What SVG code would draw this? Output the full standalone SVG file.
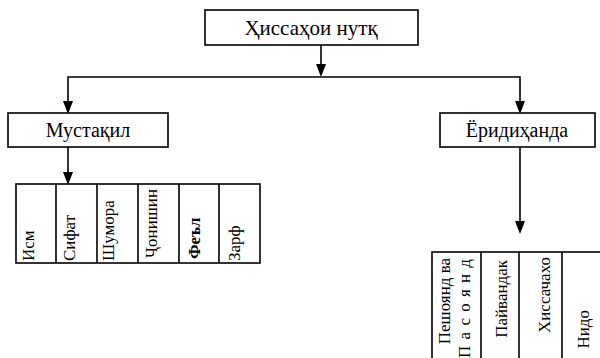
<svg xmlns="http://www.w3.org/2000/svg" width="600" height="358" viewBox="0 0 600 358">
<rect width="600" height="358" fill="#fff"/>
<g id="connectors" fill="none" stroke="#000" stroke-width="1.6">
<polyline points="68,112 68,77 520,77 520,112"/>
<line x1="321" y1="45" x2="321" y2="70"/>
<line x1="68" y1="147" x2="68" y2="178"/>
<line x1="520" y1="147" x2="520" y2="226"/>
<g fill="#000" stroke="none">
<polygon points="316,64 326,64 321,77"/>
<polygon points="63,101 73,101 68,114"/>
<polygon points="515,101 525,101 520,114"/>
<polygon points="63,172 73,172 68,185"/>
<polygon points="515,221 525,221 520,234"/>
</g>
</g>
<g id="root">
<rect x="205" y="10" width="213" height="35" fill="#fff" stroke="#000" stroke-width="1.6"/>
<text x="311" y="35" style="font-family:'Liberation Serif','Times New Roman',serif;font-size:21px" text-anchor="middle">Ҳиссаҳои нутқ</text>
</g>
<g id="mustaqil">
<rect x="8" y="113" width="160" height="34" fill="#fff" stroke="#000" stroke-width="1.6"/>
<text x="88" y="137" style="font-family:'Liberation Serif','Times New Roman',serif;font-size:20px" text-anchor="middle">Мустақил</text>
</g>
<g id="eridihanda">
<rect x="440" y="113" width="155" height="34" fill="#fff" stroke="#000" stroke-width="1.6"/>
<text x="517" y="137" style="font-family:'Liberation Serif','Times New Roman',serif;font-size:20px" text-anchor="middle">Ёридиҳанда</text>
</g>
<g id="table-left">
<g fill="#fff" stroke="#000" stroke-width="1.6">
<rect x="16" y="184" width="244" height="79"/>
<line x1="56" y1="184" x2="56" y2="263"/>
<line x1="97" y1="184" x2="97" y2="263"/>
<line x1="138" y1="184" x2="138" y2="263"/>
<line x1="179" y1="184" x2="179" y2="263"/>
<line x1="219" y1="184" x2="219" y2="263"/>
</g>
<text style="font-family:'Liberation Serif','Times New Roman',serif;font-size:17px" transform="translate(34,261) rotate(-90)">Исм</text>
<text style="font-family:'Liberation Serif','Times New Roman',serif;font-size:17px" transform="translate(75,261) rotate(-90)">Сифат</text>
<text style="font-family:'Liberation Serif','Times New Roman',serif;font-size:17px" transform="translate(114,261) rotate(-90)">Шумора</text>
<text style="font-family:'Liberation Serif','Times New Roman',serif;font-size:17px" transform="translate(157,258) rotate(-90)">Ҷонишин</text>
<text style="font-family:'Liberation Serif','Times New Roman',serif;font-size:17px;font-weight:bold" transform="translate(200,259) rotate(-90)">Феъл</text>
<text style="font-family:'Liberation Serif','Times New Roman',serif;font-size:17px" transform="translate(240,261) rotate(-90)">Зарф</text>
</g>
<g id="table-right">
<g fill="#fff" stroke="#000" stroke-width="1.6">
<rect x="432" y="252" width="210" height="130"/>
<line x1="481" y1="252" x2="481" y2="382"/>
<line x1="519" y1="252" x2="519" y2="382"/>
<line x1="562" y1="252" x2="562" y2="382"/>
</g>
<text style="font-family:'Liberation Serif','Times New Roman',serif;font-size:17px" text-anchor="end" transform="translate(450,258) rotate(-90)">Пешоянд ва</text>
<text style="font-family:'Liberation Serif','Times New Roman',serif;font-size:17px;letter-spacing:1px" text-anchor="end" transform="translate(470,258) rotate(-90)">П а с о я н д</text>
<text style="font-family:'Liberation Serif','Times New Roman',serif;font-size:17px" text-anchor="end" transform="translate(507,260) rotate(-90)">Пайвандак</text>
<text style="font-family:'Liberation Serif','Times New Roman',serif;font-size:17px" text-anchor="end" transform="translate(550,257) rotate(-90)">Хиссачахо</text>
<text style="font-family:'Liberation Serif','Times New Roman',serif;font-size:17px" text-anchor="end" transform="translate(589,310) rotate(-90)">Нидо</text>
</g>
</svg>
